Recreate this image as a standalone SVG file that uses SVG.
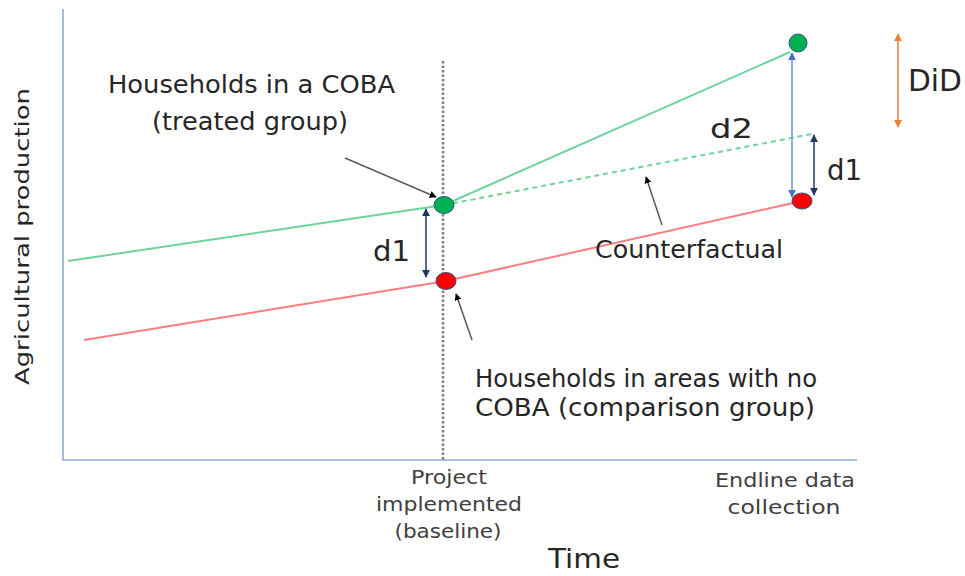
<svg xmlns="http://www.w3.org/2000/svg" width="965" height="576" viewBox="0 0 965 576">
  <defs>
    <style>
      .lbl { font-family: "DejaVu Sans", "Liberation Sans", sans-serif; fill: #262626; }
      .tick { font-family: "DejaVu Sans", "Liberation Sans", sans-serif; fill: #404040; font-size: 20px; text-anchor: middle; }
      .axis { stroke: #8FAADC; stroke-width: 1.6; fill: none; }
      .treated { stroke: #6FD39C; stroke-width: 2; fill: none; }
      .comparison { stroke: #FF7C80; stroke-width: 2; fill: none; }
      .pointer { stroke: #595959; stroke-width: 1.5; fill: none; marker-end: url(#headBlack); }
      .dnavy { stroke: #203864; stroke-width: 1.5; fill: none; marker-start: url(#headNavyS); marker-end: url(#headNavy); }
      .dblue { stroke: #6E93D8; stroke-width: 1.5; fill: none; marker-start: url(#headBlueS); marker-end: url(#headBlue); }
      .dorange { stroke: #ED7D31; stroke-width: 1.5; fill: none; marker-start: url(#headOrangeS); marker-end: url(#headOrange); }
      .dot { stroke: #2F528F; stroke-width: 1; }
    </style>
    <marker id="headBlack" viewBox="0 0 10 10" refX="9" refY="5" markerWidth="7" markerHeight="7" markerUnits="userSpaceOnUse" orient="auto">
      <path d="M0,0 L10,5 L0,10 z" fill="#000"/>
    </marker>
    <marker id="headNavy" viewBox="0 0 10 10" refX="9" refY="5" markerWidth="8" markerHeight="8" markerUnits="userSpaceOnUse" orient="auto">
      <path d="M0,0 L10,5 L0,10 z" fill="#203864"/>
    </marker>
    <marker id="headNavyS" viewBox="0 0 10 10" refX="1" refY="5" markerWidth="8" markerHeight="8" markerUnits="userSpaceOnUse" orient="auto">
      <path d="M10,0 L0,5 L10,10 z" fill="#203864"/>
    </marker>
    <marker id="headBlue" viewBox="0 0 10 10" refX="9" refY="5" markerWidth="8" markerHeight="8" markerUnits="userSpaceOnUse" orient="auto">
      <path d="M0,0 L10,5 L0,10 z" fill="#4472C4"/>
    </marker>
    <marker id="headBlueS" viewBox="0 0 10 10" refX="1" refY="5" markerWidth="8" markerHeight="8" markerUnits="userSpaceOnUse" orient="auto">
      <path d="M10,0 L0,5 L10,10 z" fill="#4472C4"/>
    </marker>
    <marker id="headOrange" viewBox="0 0 10 10" refX="9" refY="5" markerWidth="8" markerHeight="8" markerUnits="userSpaceOnUse" orient="auto">
      <path d="M0,0 L10,5 L0,10 z" fill="#ED7D31"/>
    </marker>
    <marker id="headOrangeS" viewBox="0 0 10 10" refX="1" refY="5" markerWidth="8" markerHeight="8" markerUnits="userSpaceOnUse" orient="auto">
      <path d="M10,0 L0,5 L10,10 z" fill="#ED7D31"/>
    </marker>
  </defs>

  <rect width="965" height="576" fill="#ffffff"/>

  <!-- axes -->
  <g id="axes">
    <path class="axis" d="M63,9 L63,460 L857,460"/>
    <text class="lbl" font-size="20" transform="translate(29,385) rotate(-90)" textLength="297" lengthAdjust="spacingAndGlyphs">Agricultural production</text>
    <text class="lbl" font-size="27" x="584" y="568" text-anchor="middle" textLength="72" lengthAdjust="spacingAndGlyphs">Time</text>
  </g>

  <!-- baseline marker -->
  <g id="baseline">
    <line x1="443" y1="61" x2="443" y2="460" stroke="#7F7F7F" stroke-width="2.5" stroke-dasharray="2.5,2"/>
    <text class="tick" x="449" y="484" textLength="76" lengthAdjust="spacingAndGlyphs">Project</text>
    <text class="tick" x="449" y="511" textLength="146" lengthAdjust="spacingAndGlyphs">implemented</text>
    <text class="tick" x="448" y="538" textLength="107" lengthAdjust="spacingAndGlyphs">(baseline)</text>
  </g>

  <g id="endline">
    <text class="tick" x="785" y="487" textLength="140" lengthAdjust="spacingAndGlyphs">Endline data</text>
    <text class="tick" x="784" y="514" textLength="113" lengthAdjust="spacingAndGlyphs">collection</text>
  </g>

  <!-- trend lines and measurements -->
  <g id="connectors">
    <line class="treated" x1="68" y1="261" x2="444" y2="205"/>
    <line class="treated" x1="444" y1="205" x2="790" y2="52"/>
    <line class="treated" x1="444" y1="205" x2="812" y2="134" stroke-dasharray="5,4"/>
    <line class="comparison" x1="84" y1="340" x2="446" y2="281"/>
    <line class="comparison" x1="446" y1="281" x2="802" y2="201"/>

    <line class="pointer" x1="345" y1="158" x2="436" y2="197"/>
    <line class="pointer" x1="472" y1="340" x2="456" y2="294"/>
    <line class="pointer" x1="662" y1="225" x2="646" y2="177"/>

    <line class="dnavy" x1="426" y1="209" x2="426" y2="277"/>
    <line class="dnavy" x1="814" y1="135" x2="814" y2="195"/>
    <line class="dblue" x1="792" y1="53" x2="792" y2="197"/>
    <line class="dorange" x1="898" y1="34" x2="898" y2="127"/>
  </g>

  <!-- data points -->
  <g id="treated-baseline"><ellipse class="dot" cx="444" cy="205" rx="10" ry="8.5" fill="#00B050"/></g>
  <g id="comparison-baseline"><ellipse class="dot" cx="446" cy="281" rx="10" ry="8.5" fill="#FF0000"/></g>
  <g id="treated-endline"><ellipse class="dot" cx="798" cy="43" rx="9" ry="9" fill="#00B050"/></g>
  <g id="comparison-endline"><ellipse class="dot" cx="802" cy="201" rx="10" ry="8" fill="#FF0000"/></g>

  <!-- annotations -->
  <g id="treated-label">
    <text class="lbl" font-size="24" x="108" y="93" textLength="287" lengthAdjust="spacingAndGlyphs">Households in a COBA</text>
    <text class="lbl" font-size="24" x="152" y="130" textLength="196" lengthAdjust="spacingAndGlyphs">(treated group)</text>
  </g>
  <g id="comparison-label">
    <text class="lbl" font-size="24" x="475" y="387" textLength="342" lengthAdjust="spacingAndGlyphs">Households in areas with no</text>
    <text class="lbl" font-size="24" x="475" y="416" textLength="340" lengthAdjust="spacingAndGlyphs">COBA (comparison group)</text>
  </g>
  <g id="counterfactual-label">
    <text class="lbl" font-size="24" x="595" y="258" textLength="188" lengthAdjust="spacingAndGlyphs">Counterfactual</text>
  </g>
  <g id="d1-baseline"><text class="lbl" font-size="29" x="373" y="261" textLength="37" lengthAdjust="spacingAndGlyphs">d1</text></g>
  <g id="d1-endline"><text class="lbl" font-size="28" x="827" y="180" textLength="35" lengthAdjust="spacingAndGlyphs">d1</text></g>
  <g id="d2"><text class="lbl" font-size="27" x="710" y="138" textLength="43" lengthAdjust="spacingAndGlyphs">d2</text></g>
  <g id="did"><text class="lbl" font-size="30" x="908" y="91" textLength="54" lengthAdjust="spacingAndGlyphs">DiD</text></g>
</svg>
